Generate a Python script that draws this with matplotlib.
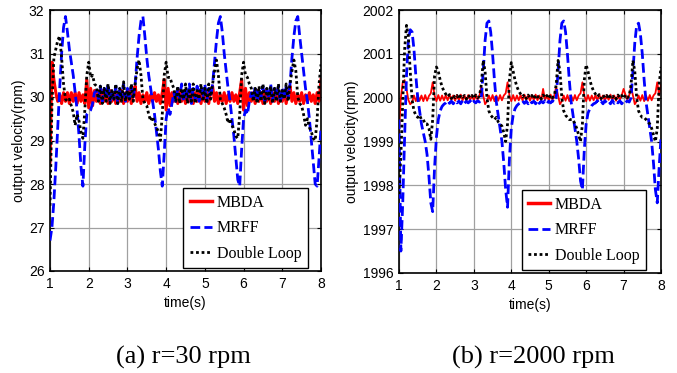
import numpy as np
import matplotlib
matplotlib.use("Agg")
import matplotlib.pyplot as plt

# sample times (s), one reading every 0.05 s
t = np.linspace(1, 8, 141)

# ---- (a) r = 30 rpm ----
mbda_30 = [
    28.5, 30.8, 30.4, 30.1, 29.9, 30.05, 29.85, 30.1, 29.9, 30.1,
    29.85, 30.1, 29.9, 30.1, 29.85, 30.1, 29.9, 30.05, 29.85, 30.4,
    29.75, 30.2, 29.8, 30.15, 29.9,
    30.1, 29.85, 30.15, 29.9, 30.1, 29.85, 30.15, 29.9, 30.1, 29.85,
    30.1, 29.9, 30.15, 29.85, 30.1, 29.9, 30.15, 29.85, 30.1,
    30.25, 29.9, 30.1, 29.85, 30.05, 29.9, 30.1, 29.85, 30.05, 29.9,
    30.1, 29.9, 30.05, 29.85, 30.1, 30.4, 29.7, 30.2, 29.8, 30.1, 29.9,
    30.1, 29.85, 30.15, 29.9, 30.1, 29.85, 30.1, 29.9, 30.15, 29.85,
    30.1, 29.9, 30.15, 29.85, 30.1, 29.9, 30.1, 29.85, 30.15,
    30.25, 29.9, 30.1, 29.85, 30.05, 29.9, 30.1, 29.85, 30.05, 29.9,
    30.1, 29.9, 30.05, 29.85, 30.1, 30.4, 29.7, 30.2, 29.8, 30.1, 29.9,
    30.1, 29.85, 30.15, 29.9, 30.1, 29.85, 30.15, 29.9, 30.1, 29.85,
    30.1, 29.9, 30.15, 29.85, 30.1, 29.9, 30.15, 29.85, 30.1,
    30.25, 29.9, 30.1, 29.85, 30.05, 29.9, 30.1, 29.85, 30.05, 29.9,
    30.1, 29.9, 30.05, 29.85, 30.1, 29.9, 30.4,
]
mrff_30 = [
    26.7, 27.0, 27.6, 28.4, 29.3, 30.2, 31.0, 31.6, 31.85, 31.5,
    31.1, 30.8, 30.5, 30.1, 29.7, 29.1, 28.4, 27.95, 28.9, 29.6,
    29.65, 29.7, 29.85, 30.1, 30.15,
    29.95, 30.25, 29.9, 30.2, 30.0, 30.3, 29.9, 30.15, 29.95, 30.25,
    29.85, 30.2, 30.0, 30.3, 29.9, 30.2, 29.95, 30.25, 30.0,
    30.3, 30.9, 31.4, 31.75, 31.85, 31.4, 30.9, 30.5, 30.2, 29.9,
    29.6, 29.2, 28.8, 28.3, 27.95, 28.7, 29.5, 29.75, 29.6, 29.85, 30.1,
    29.9, 30.2, 29.95, 30.3, 29.9, 30.15, 30.0, 30.3, 29.85, 30.2,
    29.95, 30.25, 29.9, 30.2, 30.0, 30.3, 29.9, 30.2, 30.0,
    30.3, 30.8, 31.3, 31.7, 31.85, 31.5, 31.0, 30.6, 30.2, 29.9,
    29.5, 29.1, 28.6, 28.1, 27.95, 28.8, 29.5, 29.7, 29.6, 29.9, 30.1,
    29.95, 30.25, 29.9, 30.2, 30.0, 30.25, 29.9, 30.15, 29.95, 30.3,
    29.9, 30.2, 30.0, 30.25, 29.85, 30.2, 29.95, 30.25, 30.0,
    30.3, 30.9, 31.4, 31.75, 31.85, 31.4, 31.0, 30.6, 30.2, 29.9,
    29.5, 29.0, 28.5, 28.0, 27.95, 28.6, 29.3,
]
dloop_30 = [
    27.5, 29.8, 30.9, 31.1, 31.3, 31.4, 30.9, 30.3, 29.95, 29.9,
    29.95, 29.8, 29.65, 29.35, 29.6, 29.45, 29.2, 29.05, 29.7, 30.5,
    30.8, 30.45, 30.5, 30.3, 30.25,
    29.9, 30.25, 29.85, 30.2, 29.9, 30.3, 29.85, 30.15, 29.95, 30.3,
    29.85, 30.2, 29.9, 30.35, 29.9, 30.15, 29.95, 30.3, 29.9,
    30.3, 30.65, 30.85, 30.5, 29.95, 29.85, 29.8, 29.6, 29.45, 29.55,
    29.4, 29.3, 29.2, 29.0, 29.6, 30.5, 30.8, 30.45, 30.45, 30.3, 30.2,
    29.9, 30.25, 29.85, 30.2, 29.95, 30.3, 29.85, 30.2, 29.9, 30.3,
    29.85, 30.15, 29.95, 30.3, 29.9, 30.2, 29.85, 30.3, 29.95,
    30.3, 30.6, 30.85, 30.5, 29.95, 29.85, 29.75, 29.6, 29.4, 29.5,
    29.35, 29.25, 29.1, 29.05, 29.6, 30.5, 30.8, 30.5, 30.45, 30.3, 30.2,
    29.9, 30.2, 29.85, 30.25, 29.9, 30.3, 29.85, 30.2, 29.95, 30.25,
    29.85, 30.2, 29.9, 30.3, 29.9, 30.15, 29.95, 30.3, 29.9,
    30.3, 30.6, 30.85, 30.6, 30.0, 29.85, 29.8, 29.6, 29.35, 29.5,
    29.3, 29.2, 29.05, 29.0, 29.5, 30.3, 30.75,
]

# ---- (b) r = 2000 rpm ----
mbda_2000 = [
    1999.2, 2000.0, 2000.35, 2000.4, 2000.2, 1999.95, 1999.85, 1999.9, 2000.05, 1999.92,
    2000.06, 1999.93, 2000.05, 1999.92, 2000.06, 1999.93, 2000.04, 2000.1, 2000.35, 2000.05,
    1999.92, 2000.06, 1999.93, 2000.05, 1999.94,
    2000.06, 1999.94, 2000.07, 1999.95, 2000.05, 1999.93, 2000.06, 1999.95, 2000.07, 1999.94,
    2000.05, 1999.93, 2000.06, 1999.95, 2000.05, 1999.94, 2000.07, 1999.95, 2000.05,
    2000.25, 2000.05, 1999.85, 1999.92, 2000.05, 1999.93, 2000.06, 1999.92, 2000.05, 1999.93,
    2000.06, 1999.94, 2000.05, 2000.1, 2000.35, 2000.05, 1999.92, 2000.06, 1999.93, 2000.05, 1999.94,
    2000.06, 1999.94, 2000.07, 1999.95, 2000.05, 1999.93, 2000.06, 1999.95, 2000.07, 1999.94,
    2000.05, 1999.93, 2000.2, 1999.95, 2000.05, 1999.94, 2000.07, 1999.95, 2000.05,
    2000.25, 2000.05, 1999.85, 1999.92, 2000.05, 1999.93, 2000.06, 1999.92, 2000.05, 1999.93,
    2000.06, 1999.94, 2000.05, 2000.1, 2000.35, 2000.05, 1999.92, 2000.06, 1999.93, 2000.05, 1999.94,
    2000.06, 1999.94, 2000.07, 1999.95, 2000.05, 1999.93, 2000.06, 1999.95, 2000.07, 1999.94,
    2000.05, 1999.93, 2000.06, 1999.95, 2000.05, 2000.2, 2000.07, 1999.95, 2000.05,
    2000.25, 2000.05, 1999.85, 1999.92, 2000.05, 1999.93, 2000.06, 1999.92, 2000.05, 1999.93,
    2000.06, 1999.94, 2000.05, 2000.1, 2000.35, 2000.05, 2000.3,
]
mrff_2000 = [
    1999.5, 1996.5, 1997.6, 1999.1, 2000.5, 2001.3, 2001.55, 2001.5, 2001.1, 2000.5,
    2000.0, 1999.7, 1999.4, 1999.2, 1999.0, 1998.7, 1998.2, 1997.6, 1997.4, 1998.4,
    1999.1, 1999.5, 1999.7, 1999.8, 1999.85,
    1999.88, 1999.93, 1999.87, 1999.92, 1999.86, 1999.93, 1999.88, 1999.92, 1999.86, 1999.94,
    1999.87, 1999.92, 1999.88, 1999.93, 1999.86, 1999.92, 1999.88, 1999.93, 1999.9,
    2000.0, 2000.6, 2001.3, 2001.7, 2001.75, 2001.5, 2001.0, 2000.4, 1999.9, 1999.6,
    1999.3, 1999.0, 1998.5, 1997.9, 1997.5, 1998.6, 1999.3, 1999.6, 1999.75, 1999.82, 1999.86,
    1999.88, 1999.93, 1999.87, 1999.92, 1999.86, 1999.93, 1999.88, 1999.92, 1999.86, 1999.94,
    1999.87, 1999.92, 1999.88, 1999.93, 1999.86, 1999.92, 1999.88, 1999.93, 1999.9,
    2000.0, 2000.6, 2001.3, 2001.7, 2001.75, 2001.5, 2001.0, 2000.4, 1999.9, 1999.6,
    1999.3, 1999.0, 1998.6, 1998.1, 1997.9, 1998.8, 1999.4, 1999.65, 1999.75, 1999.82, 1999.86,
    1999.88, 1999.93, 1999.87, 1999.92, 1999.86, 1999.93, 1999.88, 1999.92, 1999.86, 1999.94,
    1999.87, 1999.92, 1999.88, 1999.93, 1999.86, 1999.92, 1999.88, 1999.93, 1999.9,
    2000.0, 2000.6, 2001.25, 2001.65, 2001.7, 2001.45, 2001.0, 2000.4, 1999.9, 1999.6,
    1999.3, 1999.0, 1998.5, 1997.9, 1997.6, 1998.4, 1999.1,
]
dloop_2000 = [
    1997.8, 1998.7, 1999.9, 2001.1, 2001.65, 2001.4, 2000.6, 1999.95, 1999.7, 1999.6,
    1999.55, 1999.6, 1999.5, 1999.5, 1999.4, 1999.4, 1999.3, 1999.05, 1999.5, 2000.5,
    2000.7, 2000.6, 2000.4, 2000.25, 2000.15,
    2000.08, 2000.02, 2000.07, 1999.98, 2000.06, 2000.0, 2000.05, 1999.97, 2000.06, 2000.01,
    2000.05, 1999.97, 2000.06, 2000.0, 2000.05, 1999.98, 2000.06, 2000.0, 2000.04,
    2000.3, 2000.85, 2000.6, 2000.0, 1999.7, 1999.6, 1999.55, 1999.5, 1999.55, 1999.45,
    1999.4, 1999.35, 1999.2, 1999.0, 1999.4, 2000.4, 2000.8, 2000.6, 2000.4, 2000.25, 2000.15,
    2000.08, 2000.02, 2000.07, 1999.98, 2000.06, 2000.0, 2000.05, 1999.97, 2000.06, 2000.01,
    2000.05, 1999.97, 2000.06, 2000.0, 2000.05, 1999.98, 2000.06, 2000.0, 2000.04,
    2000.3, 2000.85, 2000.6, 2000.0, 1999.7, 1999.6, 1999.55, 1999.5, 1999.5, 1999.5,
    1999.4, 1999.3, 1999.15, 1999.0, 1999.4, 2000.4, 2000.75, 2000.6, 2000.4, 2000.25, 2000.15,
    2000.08, 2000.02, 2000.07, 1999.98, 2000.06, 2000.0, 2000.05, 1999.97, 2000.06, 2000.01,
    2000.05, 1999.97, 2000.06, 2000.0, 2000.05, 1999.98, 2000.06, 2000.0, 2000.04,
    2000.3, 2000.85, 2000.6, 2000.0, 1999.7, 1999.6, 1999.55, 1999.55, 1999.5, 1999.45,
    1999.4, 1999.3, 1999.15, 1999.0, 1999.3, 2000.3, 2000.7,
]

xticks = [1, 2, 3, 4, 5, 6, 7, 8]
yticks_30 = [26, 27, 28, 29, 30, 31, 32]
yticks_2000 = [1996, 1997, 1998, 1999, 2000, 2001, 2002]
labels = ["MBDA", "MRFF", "Double Loop"]
captions = ["(a) r=30 rpm", "(b) r=2000 rpm"]

plt.rcParams['font.family'] = ['Liberation Sans', 'DejaVu Sans']
plt.rcParams['font.size'] = 10


def draw_panel(ax, red, blue, black, yticks, red_lw, legend_anchor):
    ax.plot(t, red, color='red', linewidth=red_lw, label=labels[0], zorder=2)
    ax.plot(t, blue, color='blue', linewidth=2, linestyle=(0, (3.5, 1.5)), label=labels[1], zorder=3)
    ax.plot(t, black, color='black', linewidth=2, linestyle=(0, (1, 1)), label=labels[2], zorder=4)

    ax.set_xlim(1, 8)
    ax.set_ylim(yticks[0], yticks[-1])
    ax.set_xticks(xticks)
    ax.set_yticks(yticks)
    ax.grid(True, color='#a0a0a0', linewidth=0.9, linestyle='-')
    ax.set_axisbelow(True)
    ax.tick_params(direction='in', top=True, right=True, length=3, width=0.8, labelsize=10, pad=4)
    for s in ax.spines.values():
        s.set_linewidth(1.2)
    ax.set_xlabel("time(s)", fontsize=10, labelpad=4)
    ax.set_ylabel("output velocity(rpm)", fontsize=10, labelpad=2)

    leg = ax.legend(loc='lower right', bbox_to_anchor=legend_anchor, borderaxespad=0,
                    fancybox=False, framealpha=1, edgecolor='black',
                    prop={'family': 'Liberation Serif', 'size': 11.5},
                    handlelength=1.4, handletextpad=0.3, labelspacing=0.6,
                    borderpad=0.4)
    leg.get_frame().set_linewidth(1.0)
    leg.get_lines()[0].set_linewidth(2.5)
    leg.set_zorder(10)


fig = plt.figure(figsize=(6.77, 3.73), dpi=100)
ax1 = fig.add_axes([50 / 677, 1 - 271 / 373, 271 / 677, 261 / 373])
ax2 = fig.add_axes([399 / 677, 1 - 273 / 373, 262 / 677, 263 / 373])

draw_panel(ax1, mbda_30, mrff_30, dloop_30, yticks_30, 2.2, (0.952, 0.01))
draw_panel(ax2, mbda_2000, mrff_2000, dloop_2000, yticks_2000, 1.3, (0.943, 0.01))

fig.text(183 / 677, 1 - 357 / 373, captions[0], family='Liberation Serif', fontsize=19,
         ha='center', va='center')
fig.text(533 / 677, 1 - 357 / 373, captions[1], family='Liberation Serif', fontsize=19,
         ha='center', va='center')

fig.savefig("out.png", dpi=100)
